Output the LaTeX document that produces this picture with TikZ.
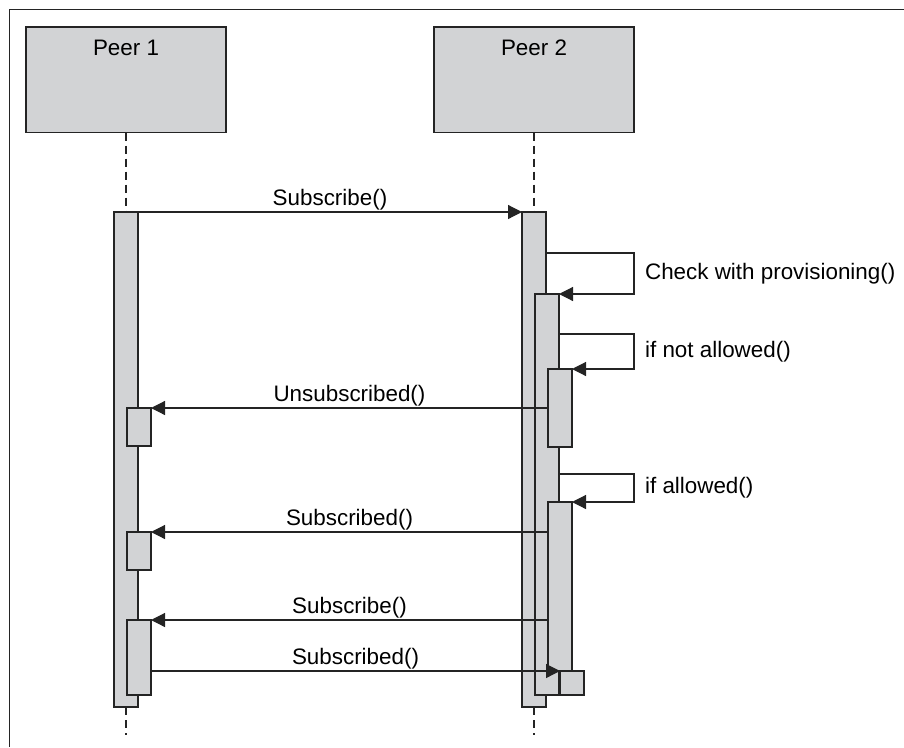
\documentclass[tikz,border=0pt]{standalone}
\usepackage{fontspec}
\setmainfont{Liberation Sans}
\usetikzlibrary{arrows.meta,positioning}
\definecolor{barfill}{RGB}{210,211,213}
\definecolor{ink}{RGB}{36,36,36}

\begin{document}
\begin{tikzpicture}[x=1pt,y=-1pt,font=\fontsize{22.4}{26}\selectfont,line width=1.2pt,
  peer/.style={draw=ink,fill=barfill,minimum width=200,minimum height=105.5,anchor=north west,inner sep=0pt,outer sep=0pt,
    label={[anchor=north,inner sep=0pt,yshift=-12.6pt]north:#1}},
  bar/.style={draw=ink,fill=barfill,minimum width=24,minimum height=#1,anchor=north west,inner sep=0pt,outer sep=0pt},
  msg/.style={draw=ink,-{Triangle[length=14pt,width=14pt]}},
  life/.style={draw=ink,dash pattern=on 8pt off 5pt},
  lbl/.style={inner sep=0pt,above=1.5pt},
  note/.style={inner sep=0pt,right=10.5pt,pos=.25}]
  \useasboundingbox (0,0) rectangle (904,747);
  \draw[ink,line width=1.6pt] (904,9.5) -- (9.5,9.5) -- (9.5,747);
  \node[peer=Peer 1] (p1) at (26,27) {};
  \node[peer=Peer 2] (p2) at (434,27) {};
  \coordinate (e1) at (126,735);
  \coordinate (e2) at (534,735);
  % activations of Peer 1
  \node[bar=495] (b1) at (114,212) {};
  \node[bar=38] (b2) at (127,408) {};
  \node[bar=38] (b3) at (127,532) {};
  \node[bar=75] (b4) at (127,620) {};
  % activations of Peer 2
  \node[bar=495] (a1) at (522,212) {};
  \node[bar=401] (a2) at (535,294) {};
  \node[bar=78] (a3) at (548,369) {};
  \node[bar=169] (a4) at (548,502) {};
  \node[bar=24] (a5) at (560,671) {};
  \draw[life] (p1.south) -- (b1.north) (b1.south) -- (e1);
  \draw[life] (p2.south) -- (a1.north) (a1.south) -- (e2);
  % messages
  \draw[msg] (b1.north east) -- node[lbl] {Subscribe()} (a1.north west);
  \draw[msg] (a1.east |- 0,253) -- (634,253) |- node[note] {Check with provisioning()} (a2.north east);
  \draw[msg] (a2.east |- 0,334) -- (634,334) |- node[note] {if not allowed()} (a3.north east);
  \draw[msg] (a3.west |- b2.north) -- node[lbl] {Unsubscribed()} (b2.north east);
  \draw[msg] (a2.east |- 0,474) -- (634,474) |- node[note] {if allowed()} (a4.north east);
  \draw[msg] (a4.west |- b3.north) -- node[lbl] {Subscribed()} (b3.north east);
  \draw[msg] (a4.west |- b4.north) -- node[lbl] {Subscribe()} (b4.north east);
  \draw[msg] (b4.east |- a5.north) -- node[lbl] {Subscribed()} (a5.north west);
\end{tikzpicture}
\end{document}
